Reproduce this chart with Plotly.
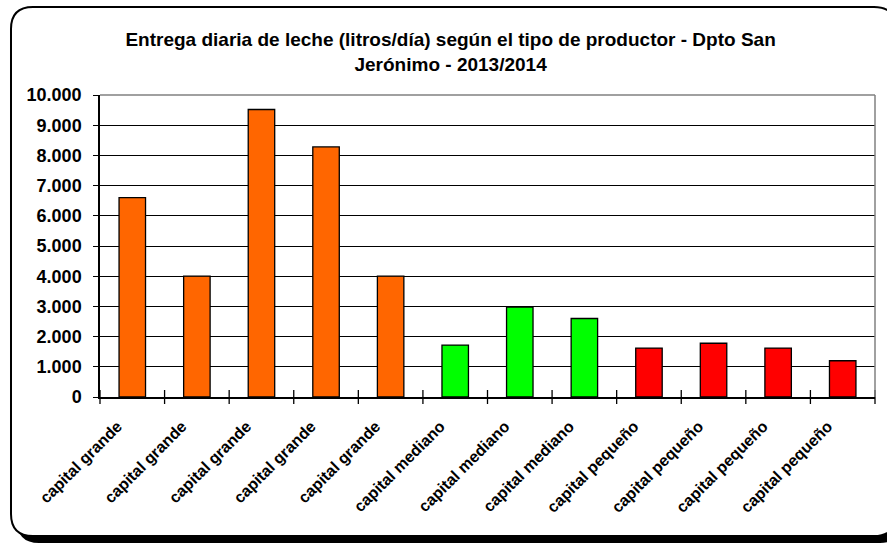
import plotly.graph_objects as go

categories = ["capital grande"] * 5 + ["capital mediano"] * 3 + ["capital pequeño"] * 4
values = [6600, 4000, 9520, 8280, 4000, 1720, 2980, 2600, 1620, 1780, 1620, 1200]
colors = ["#FF6600"] * 5 + ["#00FF00"] * 3 + ["#FF0000"] * 4
ytick_vals = [0, 1000, 2000, 3000, 4000, 5000, 6000, 7000, 8000, 9000, 10000]
ytick_text = ["0", "1.000", "2.000", "3.000", "4.000", "5.000", "6.000", "7.000", "8.000", "9.000", "10.000"]
title_text = "Entrega diaria de leche (litros/día) según el tipo de productor - Dpto San<br>Jerónimo - 2013/2014"

W, H = 887, 544
L, R, T, B = 100, 12, 95, 147
PW, PH = W - L - R, H - T - B

x_idx = list(range(len(values)))

fig = go.Figure(go.Bar(
    x=x_idx, y=values,
    marker=dict(color=colors, line=dict(color="black", width=1.3)),
    width=0.41,
))

def px2paper(px, py):
    return (px - L) / PW, (H - B - py) / PH

def rounded_path(x0, y0, x1, y1, r):
    def p(x, y):
        a, b = px2paper(x, y)
        return f"{a:.5f},{b:.5f}"
    d = f"M {p(x0 + r, y0)} L {p(x1 - r, y0)} Q {p(x1, y0)} {p(x1, y0 + r)} "
    d += f"L {p(x1, y1 - r)} Q {p(x1, y1)} {p(x1 - r, y1)} "
    d += f"L {p(x0 + r, y1)} Q {p(x0, y1)} {p(x0, y1 - r)} "
    d += f"L {p(x0, y0 + r)} Q {p(x0, y0)} {p(x0 + r, y0)} Z"
    return d

shapes = [
    dict(type="path", xref="paper", yref="paper", path=rounded_path(17, 13, 902, 543, 22),
         fillcolor="black", line=dict(color="black", width=0), layer="below"),
    dict(type="path", xref="paper", yref="paper", path=rounded_path(11, 7, 896, 536, 22),
         fillcolor="white", line=dict(color="black", width=2), layer="below"),
    dict(type="line", xref="paper", yref="paper", x0=0, x1=1, y0=1, y1=1,
         line=dict(color="#808080", width=1.5), layer="above"),
    dict(type="line", xref="paper", yref="paper", x0=1, x1=1, y0=0, y1=1,
         line=dict(color="#808080", width=1.5), layer="above"),
]

fig.update_layout(
    width=W, height=H,
    margin=dict(l=L, r=R, t=T, b=B, autoexpand=False),
    paper_bgcolor="white",
    plot_bgcolor="rgba(0,0,0,0)",
    showlegend=False,
    bargap=0.6,
    font=dict(family="Liberation Sans, Arial, sans-serif", color="black"),
    title=dict(text="<b>" + title_text + "</b>", x=0.508, xanchor="center",
               y=1 - 46 / H, yanchor="top",
               font=dict(size=19, family="Liberation Sans, Arial, sans-serif", color="black")),
    shapes=shapes,
)

fig.update_xaxes(
    type="linear", range=[-0.5, len(values) - 0.5],
    tickmode="array", tickvals=[i - 0.23 for i in x_idx],
    ticktext=["<b>" + c + "</b>" for c in categories],
    tickangle=-45, tickfont=dict(size=16, color="black"),
    ticklabelstandoff=12,
    showgrid=False, showline=True, linecolor="black", linewidth=1.5,
    ticks="", zeroline=False, automargin=False,
)
# boundary ticks for the x axis
fig.add_trace(go.Scatter(
    x=[i - 0.5 for i in range(len(values) + 1)], y=[0] * (len(values) + 1),
    mode="markers", marker=dict(symbol="line-ns", size=10, line=dict(color="black", width=1.3)),
    hoverinfo="skip", cliponaxis=False,
))

fig.update_yaxes(
    range=[0, 10000], tickmode="array", tickvals=ytick_vals,
    ticktext=["<b>" + t + "</b>" for t in ytick_text],
    tickfont=dict(size=18, color="black"),
    ticklabelstandoff=8,
    showgrid=True, gridcolor="black", gridwidth=1,
    showline=True, linecolor="black", linewidth=1.5,
    ticks="outside", ticklen=5, tickcolor="black", tickwidth=1.3,
    zeroline=False, automargin=False,
)

fig.write_html(
    "out.html",
    config={"displayModeBar": False},
    post_script="document.body.style.margin='0';document.body.style.overflow='hidden';",
)
